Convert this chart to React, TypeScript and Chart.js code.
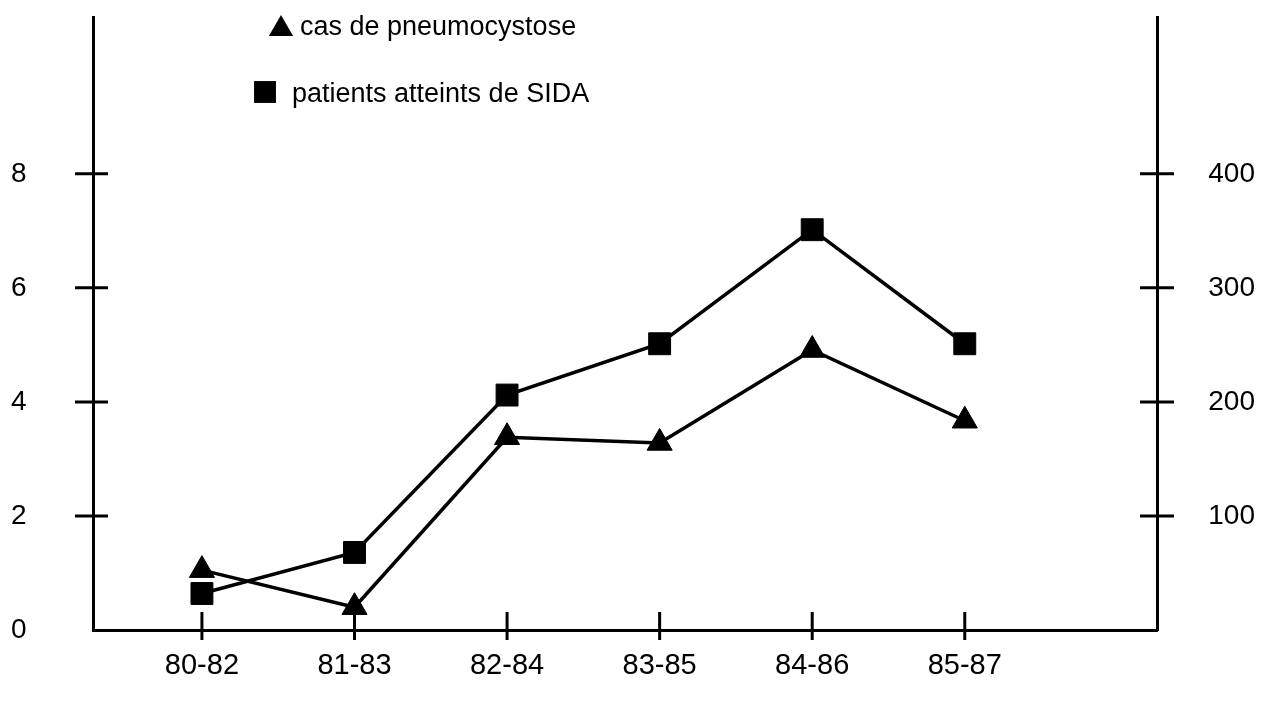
import React, { useEffect, useRef } from "react";
import { Chart, registerables } from "chart.js";

Chart.register(...registerables);

const categories = ["80-82", "81-83", "82-84", "83-85", "84-86", "85-87"];
const pneumocystose = [1.05, 0.4, 3.38, 3.28, 4.91, 3.67];
const sida = [32, 68, 206, 251, 351, 251];
const leftTicks = [0, 2, 4, 6, 8];
const rightTicks = [100, 200, 300, 400];
const seriesLabels = ["cas de pneumocystose", "patients atteints de SIDA"];

const FONT = "'Liberation Sans', Arial, Helvetica, sans-serif";

function drawMarker(ctx: CanvasRenderingContext2D, style: string, cx: number, cy: number, r: number) {
  ctx.beginPath();
  if (style === "triangle") {
    const s = Math.sin(Math.PI / 3) * r;
    ctx.moveTo(cx, cy - r);
    ctx.lineTo(cx + s, cy + r / 2);
    ctx.lineTo(cx - s, cy + r / 2);
    ctx.closePath();
  } else {
    const h = Math.SQRT1_2 * r;
    ctx.rect(cx - h, cy - h, 2 * h, 2 * h);
  }
  ctx.fill();
}

const crossTicks = {
  id: "crossTicks",
  afterDraw(chart: any) {
    const ctx = chart.ctx as CanvasRenderingContext2D;
    const { x, y, yR } = chart.scales;
    ctx.save();
    ctx.strokeStyle = "#000";
    ctx.lineWidth = 3;
    const seg = (x1: number, y1: number, x2: number, y2: number) => {
      ctx.beginPath();
      ctx.moveTo(x1, y1);
      ctx.lineTo(x2, y2);
      ctx.stroke();
    };
    x.ticks.forEach((t: any) => {
      const px = x.getPixelForValue(t.value);
      seg(px, x.top - 18, px, x.top + 10);
    });
    y.ticks.forEach((t: any) => {
      if (t.value === 0) return;
      const py = y.getPixelForValue(t.value);
      seg(y.right - 18, py, y.right + 15, py);
    });
    yR.ticks.forEach((t: any) => {
      const py = yR.getPixelForValue(t.value);
      seg(yR.left - 17, py, yR.left + 17, py);
    });
    ctx.restore();
  },
};

const markerLegend = {
  id: "markerLegend",
  afterDraw(chart: any, _args: any, opts: any) {
    const ctx = chart.ctx as CanvasRenderingContext2D;
    ctx.save();
    ctx.fillStyle = "#000";
    ctx.font = `${opts.fontSize}px ${FONT}`;
    ctx.textBaseline = "alphabetic";
    ctx.textAlign = "left";
    chart.data.datasets.forEach((ds: any, i: number) => {
      const it = opts.items[i];
      drawMarker(ctx, ds.pointStyle, it.mx, it.my, it.r);
      ctx.fillText(ds.label, it.tx, it.ty);
    });
    ctx.restore();
  },
};

export default function App() {
  const ref = useRef<HTMLCanvasElement | null>(null);

  useEffect(() => {
    if (!ref.current) return;
    const tickFont = { family: FONT, size: 28 };
    const chart = new Chart(ref.current, {
      type: "line",
      data: {
        datasets: [
          {
            label: seriesLabels[0],
            data: pneumocystose.map((v, i) => ({ x: i, y: v })),
            yAxisID: "y",
            borderColor: "#000",
            backgroundColor: "#000",
            borderWidth: 3.5,
            pointStyle: "triangle",
            pointRadius: 14.5,
            pointBorderWidth: 1,
            pointBackgroundColor: "#000",
            pointBorderColor: "#000",
            tension: 0,
            clip: false,
          },
          {
            label: seriesLabels[1],
            data: sida.map((v, i) => ({ x: i, y: v })),
            yAxisID: "yR",
            borderColor: "#000",
            backgroundColor: "#000",
            borderWidth: 3.5,
            pointStyle: "rect",
            pointRadius: 15.5,
            pointBorderWidth: 1,
            pointBackgroundColor: "#000",
            pointBorderColor: "#000",
            tension: 0,
            clip: false,
          },
        ],
      } as any,
      options: {
        responsive: false,
        animation: false,
        events: [],
        layout: { autoPadding: false, padding: { top: 17, left: 11, right: 15, bottom: 0 } },
        plugins: {
          legend: { display: false },
          tooltip: { enabled: false },
          markerLegend: {
            fontSize: 27,
            items: [
              { mx: 281, my: 29, r: 14, tx: 300, ty: 35 },
              { mx: 265, my: 92, r: 15.5, tx: 292, ty: 102 },
            ],
          },
        } as any,
        scales: {
          x: {
            type: "linear",
            min: -0.714,
            max: 6.26,
            grid: { display: false, drawTicks: false },
            border: { display: true, color: "#000", width: 3 },
            afterBuildTicks: (s: any) => {
              s.ticks = categories.map((_, i) => ({ value: i }));
            },
            afterFit: (s: any) => {
              s.height = 78;
            },
            ticks: {
              autoSkip: false,
              maxRotation: 0,
              color: "#000",
              padding: 19,
              font: { family: FONT, size: 29 },
              callback: (v: any) => categories[v] ?? "",
            },
          },
          y: {
            type: "linear",
            position: "left",
            min: 0,
            max: 10.75,
            grid: { display: false, drawTicks: false },
            border: { display: true, color: "#000", width: 3 },
            afterBuildTicks: (s: any) => {
              s.ticks = leftTicks.map((v) => ({ value: v }));
            },
            afterFit: (s: any) => {
              s.width = 82;
            },
            ticks: { color: "#000", padding: 0, crossAlign: "far", font: tickFont },
          },
          yR: {
            type: "linear",
            position: "right",
            min: 0,
            max: 537.5,
            grid: { display: false, drawTicks: false },
            border: { display: true, color: "#000", width: 3 },
            afterBuildTicks: (s: any) => {
              s.ticks = rightTicks.map((v) => ({ value: v }));
            },
            afterFit: (s: any) => {
              s.width = 98;
            },
            ticks: { color: "#000", padding: 0, crossAlign: "far", font: tickFont },
          },
        } as any,
      },
      plugins: [crossTicks, markerLegend],
    });
    return () => chart.destroy();
  }, []);

  return (
    <div style={{ position: "absolute", left: 0, top: 0, width: 1270, height: 708, background: "#fff" }}>
      <canvas ref={ref} width={1270} height={708} style={{ display: "block" }} />
    </div>
  );
}
